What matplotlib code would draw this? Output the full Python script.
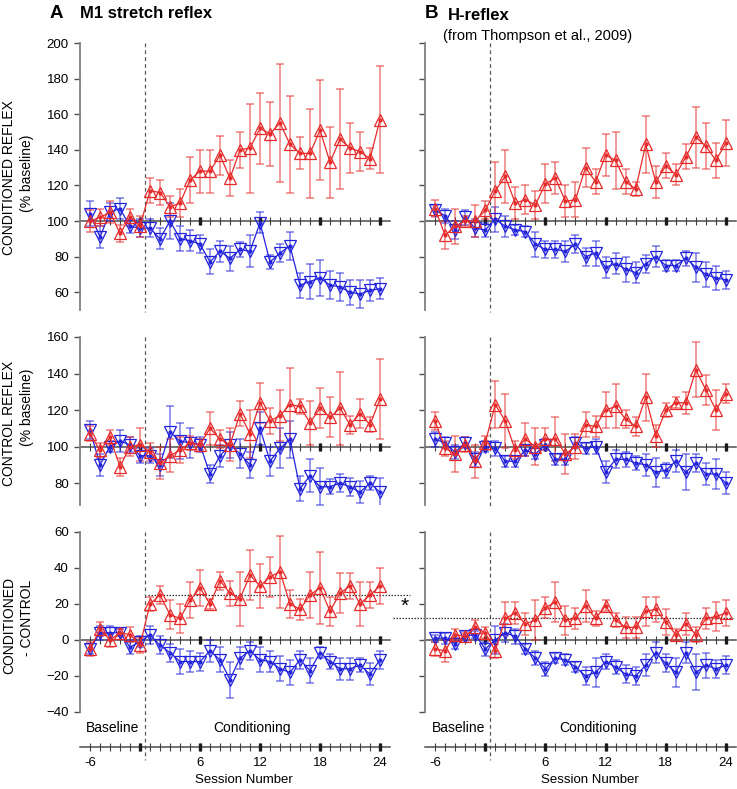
import numpy as np
import matplotlib
matplotlib.use("Agg")
import matplotlib.pyplot as plt
from matplotlib.transforms import blended_transform_factory

plt.rcParams['font.family'] = ['Liberation Sans', 'DejaVu Sans']

# sessions: 6 baseline days, then 24 conditioning days
sessions = [-6, -5, -4, -3, -2, -1] + list(range(1, 25))
session_ticks = [-6, 6, 12, 18, 24]

# A: M1 stretch reflex
m1_cond_up = [100, 102, 105, 93, 102, 97, 117, 116, 108, 110, 123, 128, 128, 137, 124, 140, 141, 152, 149, 155,
              143, 138, 138, 151, 133, 146, 141, 139, 135, 157]
m1_cond_up_err = [6, 5, 6, 5, 5, 6, 7, 7, 6, 8, 13, 12, 12, 11, 10, 10, 25, 20, 18, 33,
                  27, 9, 25, 28, 20, 28, 14, 11, 6, 30]
m1_cond_down = [104, 91, 105, 107, 97, 96, 96, 90, 100, 90, 89, 87, 77, 83, 79, 84, 83, 99, 77, 82,
                86, 64, 66, 68, 64, 63, 60, 59, 61, 62]
m1_cond_down_err = [7, 6, 5, 6, 4, 5, 5, 6, 10, 7, 6, 5, 7, 6, 7, 4, 9, 6, 4, 5,
                    8, 7, 10, 10, 8, 8, 7, 8, 6, 6]

m1_ctrl_up = [107, 98, 105, 89, 100, 101, 97, 91, 95, 98, 102, 101, 110, 104, 101, 118, 107, 124, 114, 117,
              123, 122, 113, 121, 116, 121, 112, 118, 112, 126]
m1_ctrl_up_err = [4, 4, 4, 5, 5, 9, 5, 9, 9, 7, 4, 3, 9, 5, 9, 7, 13, 11, 7, 14,
                  20, 4, 12, 11, 11, 20, 5, 8, 4, 22]
m1_ctrl_down = [109, 90, 100, 103, 101, 95, 95, 90, 108, 103, 102, 101, 85, 95, 101, 96, 90, 110, 92, 99,
                104, 77, 84, 78, 78, 80, 78, 75, 80, 75]
m1_ctrl_down_err = [5, 6, 3, 6, 4, 4, 4, 6, 14, 10, 8, 4, 5, 6, 7, 8, 7, 9, 8, 11,
                    10, 7, 9, 10, 4, 5, 5, 6, 4, 8]

m1_diff_up = [-5, 6, 0, 4, 3, -3, 20, 25, 14, 12, 22, 29, 20, 33, 26, 23, 36, 30, 35, 38,
              20, 17, 25, 29, 16, 26, 30, 20, 25, 30]
m1_diff_up_err = [4, 4, 4, 2, 4, 4, 4, 5, 8, 8, 10, 10, 3, 5, 7, 15, 14, 12, 11, 20,
                  8, 6, 13, 20, 8, 11, 7, 12, 7, 10]
m1_diff_down = [-5, 4, 4, 4, -4, -1, 3, -3, -7, -12, -12, -12, -6, -11, -22, -10, -6, -11, -12, -16,
                -18, -11, -17, -7, -12, -16, -16, -14, -19, -11]
m1_diff_down_err = [3, 4, 4, 2, 4, 3, 5, 5, 5, 7, 6, 5, 6, 7, 10, 6, 5, 7, 6, 7,
                    7, 5, 7, 3, 4, 6, 6, 4, 6, 5]
m1_diff_mean = 25

# B: H-reflex (Thompson et al., 2009)
h_cond_up = [107, 92, 97, 100, 100, 106, 117, 125, 110, 112, 109, 121, 124, 111, 112, 130, 122, 137, 134, 122,
             118, 143, 122, 131, 126, 136, 147, 142, 134, 144]
h_cond_up_err = [5, 8, 10, 3, 9, 5, 16, 15, 9, 8, 8, 11, 9, 9, 10, 11, 7, 12, 16, 7,
                 4, 16, 9, 7, 6, 7, 17, 13, 10, 13]
h_cond_down = [106, 103, 95, 102, 96, 95, 101, 97, 95, 94, 87, 84, 84, 83, 87, 80, 82, 74, 76, 73,
               71, 76, 80, 75, 75, 79, 74, 70, 68, 67]
h_cond_down_err = [3, 4, 5, 4, 5, 4, 7, 6, 3, 3, 7, 5, 5, 6, 5, 5, 7, 6, 6, 7,
                   6, 5, 6, 3, 3, 4, 8, 7, 7, 5]

h_ctrl_up = [114, 99, 96, 101, 92, 102, 123, 114, 98, 104, 100, 104, 104, 96, 100, 112, 111, 120, 122, 115,
             111, 127, 106, 120, 124, 124, 142, 131, 120, 129]
h_ctrl_up_err = [5, 4, 10, 4, 9, 4, 13, 15, 5, 9, 10, 6, 12, 11, 7, 7, 6, 10, 12, 5,
                 5, 13, 6, 4, 3, 6, 15, 8, 11, 5]
h_ctrl_down = [104, 102, 97, 102, 93, 100, 99, 92, 92, 98, 96, 101, 93, 93, 102, 99, 100, 86, 93, 93,
               91, 90, 86, 87, 92, 86, 91, 85, 85, 80]
h_ctrl_down_err = [4, 3, 4, 3, 4, 3, 4, 3, 3, 3, 3, 3, 3, 3, 3, 3, 4, 6, 5, 4,
                   4, 6, 8, 4, 6, 10, 5, 6, 8, 6]

h_diff_up = [-5, -6, 3, 2, 7, 4, -6, 12, 15, 9, 11, 18, 21, 11, 12, 19, 12, 19, 11, 7,
             7, 16, 17, 10, 3, 9, 3, 12, 13, 15]
h_diff_up_err = [4, 6, 3, 2, 4, 3, 4, 9, 6, 6, 11, 6, 11, 8, 6, 9, 4, 3, 4, 6,
                 6, 8, 7, 7, 3, 6, 4, 6, 8, 7]
h_diff_down = [1, 1, -2, 2, 3, -5, 0, 4, 2, -5, -10, -16, -10, -11, -15, -20, -18, -12, -15, -19,
               -20, -14, -7, -13, -18, -7, -18, -14, -16, -14]
h_diff_down_err = [2, 3, 3, 3, 2, 4, 8, 5, 4, 3, 4, 4, 3, 3, 3, 5, 8, 4, 4, 5,
                   5, 6, 6, 5, 8, 6, 10, 7, 5, 5]
h_diff_mean = 12.3

RED = '#e62a2a'
BLUE = '#2323dc'
W, H = 737, 789


def pos_of(s):
    # baseline days sit right before day 1 on the axis (no day 0)
    s = np.asarray(s, dtype=float)
    return np.where(s < 0, s + 1, s)


def rect(x0, y0, x1, y1):
    return [x0 / W, 1 - y1 / H, (x1 - x0) / W, (y1 - y0) / H]


def fy(y):
    return 1 - y / H


def ref_line(ax, y, trans=None):
    if trans is None:
        trans = ax.transData
    ax.plot([-6, 25], [y, y], color='0.3', lw=1.1, transform=trans, zorder=1, clip_on=False)
    p = pos_of(sessions)
    ax.plot(p, [y] * len(p), ls='none', marker='|', ms=6, mew=0.8, color='0.25',
            transform=trans, zorder=1, clip_on=False)
    bold = pos_of([-1, 6, 12, 18, 24])
    ax.plot(bold, [y] * len(bold), ls='none', marker='|', ms=6, mew=2.4, color='0.1',
            transform=trans, zorder=1, clip_on=False)


def series(ax, mean, err, color, mk):
    p = pos_of(sessions)
    ax.errorbar(p, mean, yerr=err, fmt='none', ecolor=color, alpha=0.6, elinewidth=1.1,
                capsize=2.8, capthick=1.1, zorder=2)
    ax.plot(p, mean, color=color, lw=0.9, marker=mk, ms=8.6, mfc='none', mew=0.9, zorder=3)
    ax.plot(p, mean, ls='none', marker='o', ms=2, color=color, zorder=3)


def setup(ax, ylim, yticks, labels):
    ax.set_xlim(-6, 25)
    ax.set_ylim(*ylim)
    for s in ['top', 'right', 'bottom']:
        ax.spines[s].set_visible(False)
    ax.spines['left'].set_color('0.5')
    ax.spines['left'].set_linewidth(1.3)
    ax.set_xticks([])
    ax.set_yticks(yticks)
    ax.tick_params(axis='y', direction='out', length=4, width=1, color='0.3', labelsize=9.5, pad=4,
                   labelleft=labels)
    ax.patch.set_alpha(0)


fig = plt.figure(figsize=(W / 100, H / 100), dpi=100)

columns = [
    (80, 390, True, [(m1_cond_up, m1_cond_up_err, m1_cond_down, m1_cond_down_err),
                     (m1_ctrl_up, m1_ctrl_up_err, m1_ctrl_down, m1_ctrl_down_err),
                     (m1_diff_up, m1_diff_up_err, m1_diff_down, m1_diff_down_err)]),
    (425, 736, False, [(h_cond_up, h_cond_up_err, h_cond_down, h_cond_down_err),
                       (h_ctrl_up, h_ctrl_up_err, h_ctrl_down, h_ctrl_down_err),
                       (h_diff_up, h_diff_up_err, h_diff_down, h_diff_down_err)]),
]
rows = [
    (43, 310, (50, 200), np.arange(60, 201, 20), 100),
    (337, 505, (68, 160), np.arange(80, 161, 20), 100),
    (532, 712, (-40, 60), np.arange(-40, 61, 20), 0),
]

for ci, (x0, x1, labels, panels) in enumerate(columns):
    for ri, (y0, y1, ylim, yt, ref) in enumerate(rows):
        ax = fig.add_axes(rect(x0, y0, x1, y1))
        setup(ax, ylim, yt, labels)
        ref_line(ax, ref)
        up, up_err, down, down_err = panels[ri]
        series(ax, down, down_err, BLUE, 'v')
        series(ax, up, up_err, RED, '^')

        blend = blended_transform_factory(ax.transData, fig.transFigure)
        bottom = 760 if ri == 2 else y1 + 2
        ax.plot([0.5, 0.5], [fy(y0), fy(bottom)], transform=blend, ls=(0, (3, 2.5)),
                color='0.35', lw=0.9, clip_on=False, zorder=0)

        if ri == 2:
            if ci == 0:
                ax.plot([0.8, 27], [m1_diff_mean] * 2, ls=(0, (1.2, 1.2)), color='0.2', lw=0.9,
                        clip_on=False, zorder=1)
            else:
                ax.plot([-9.2, 24.7], [h_diff_mean] * 2, ls=(0, (1.2, 1.2)), color='0.2', lw=0.9,
                        clip_on=False, zorder=1)
                ax.text(-8, 18.5, '*', fontsize=15, ha='center', va='center')
            # session number axis
            ref_line(ax, fy(747), trans=blend)
            for s in session_ticks:
                ax.text(pos_of([s])[0], fy(763), str(s), transform=blend, ha='center', va='center',
                        fontsize=9.5)
            ax.text(10.4, fy(780), 'Session Number', transform=blend, ha='center', va='center',
                    fontsize=9.5)
            ax.text(-2.7, fy(728), 'Baseline', transform=blend, ha='center', va='center', fontsize=10)
            ax.text(11.2, fy(728), 'Conditioning', transform=blend, ha='center', va='center',
                    fontsize=10)

# panel titles
fig.text(50 / W, fy(13), 'A', fontsize=13.5, fontweight='bold', ha='left', va='center')
fig.text(80 / W, fy(14), 'M1 stretch reflex', fontsize=12, fontweight='bold', ha='left', va='center')
fig.text(425 / W, fy(14), 'B', fontsize=13.5, fontweight='bold', ha='left', va='center')
fig.text(448 / W, fy(15), 'H-reflex', fontsize=12, fontweight='bold', ha='left', va='center')
fig.text(443 / W, fy(36), '(from Thompson et al., 2009)', fontsize=10.5, ha='left', va='center')

# y labels
fig.text(9 / W, fy(178), 'CONDITIONED REFLEX', rotation=90, fontsize=10, ha='center', va='center')
fig.text(27 / W, fy(173), '(% baseline)', rotation=90, fontsize=10, ha='center', va='center')
fig.text(9 / W, fy(423), 'CONTROL REFLEX', rotation=90, fontsize=10, ha='center', va='center')
fig.text(27 / W, fy(407), '(% baseline)', rotation=90, fontsize=10, ha='center', va='center')
fig.text(9 / W, fy(625), 'CONDITIONED', rotation=90, fontsize=10, ha='center', va='center')
fig.text(27 / W, fy(618), '- CONTROL', rotation=90, fontsize=10, ha='center', va='center')

fig.savefig('out.png', dpi=100)
